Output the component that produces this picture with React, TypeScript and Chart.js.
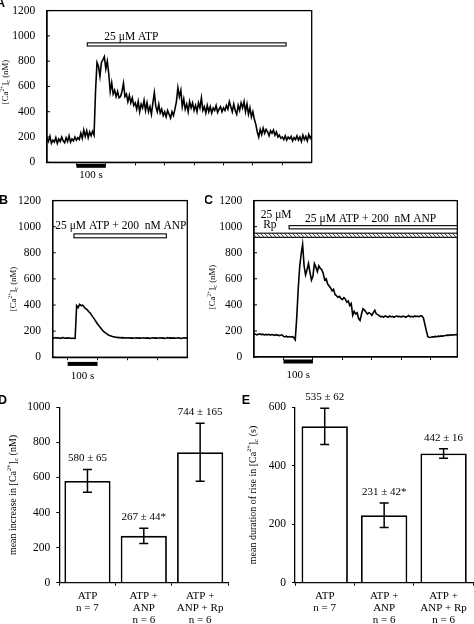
import React, { useEffect, useRef } from 'react';
import { Chart, registerables } from 'chart.js';

Chart.register(...registerables);

const SERIF = "'Liberation Serif', 'Times New Roman', serif";
const SANS = "'Liberation Sans', Arial, sans-serif";

// ---------------- DATA ----------------
// Panel A: [Ca2+]c (nM), sampled every 5 s, 0..900 s
const A_STEP = 5;
const A_CA = [
  190, 165, 205, 150, 175, 160, 195, 150, 185, 165,
  200, 170, 155, 195, 165, 210, 160, 185, 170, 200,
  175, 195, 180, 230, 190, 255, 205, 250, 195, 240,
  210, 245, 215, 560, 790, 760, 680, 790, 810, 835,
  740, 800, 700, 560, 630, 540, 570, 520, 560, 510,
  520, 560, 625, 520, 540, 480, 530, 470, 510, 450,
  470, 420, 480, 400, 460, 430, 490, 410, 470, 400,
  440, 380, 470, 550, 440, 400, 460, 390, 420, 370,
  400, 360, 410, 380, 350, 400, 370, 420, 480, 590,
  520, 570, 440, 500, 420, 460, 400, 480, 430, 470,
  410, 450, 400, 470, 430, 510, 410, 440, 390, 450,
  400, 440, 390, 430, 410, 450, 395, 420, 440, 400,
  430, 410, 450, 420, 480, 440, 400, 460, 410, 380,
  450, 410, 470, 430, 480, 400, 460, 380, 430, 360,
  400, 340, 300, 240, 200, 260, 220, 270, 230, 260,
  240, 210, 250, 230, 255, 215, 240, 200, 215, 190,
  200, 180, 210, 175, 200, 185, 205, 170, 195, 180,
  210, 175, 200, 165, 215, 180, 205, 170, 220, 190,
  215,
];
const A_X_MAX = 900;
const A_X_TICKS = [100, 200, 300, 400, 500, 600, 700, 800];
const A_SCALE_BAR = [100, 200];
const A_ATP = [137, 813];

// Panel B
const B_STEP = 5;
const B_CA = [
  148, 145, 150, 146, 149, 144, 148, 150, 145, 147,
  146, 149, 144, 147, 143, 145, 395, 380, 405, 395,
  398, 385, 372, 365, 350, 340, 322, 305, 290, 272,
  255, 240, 225, 210, 198, 188, 180, 172, 166, 162,
  158, 156, 153, 152, 150, 151, 148, 150, 147, 149,
  147, 149, 146, 148, 145, 147, 149, 146, 148, 145,
  147, 149, 145, 148, 146, 144, 147, 149, 146, 148,
  145, 147, 149, 146, 148, 144, 147, 150, 146, 148,
  146, 148, 145, 147, 149, 146, 144, 147, 149, 146,
  148,
];
const B_X_MAX = 450;
const B_X_TICKS = [50, 150, 250, 350];
const B_SCALE_BAR = [50, 150];
const B_ATP_ANP = [71, 380];

// Panel C
const C_STEP = 5;
const C_CA = [
  172, 176, 170, 174, 178, 171, 175, 169, 173, 170,
  174, 168, 172, 170, 166, 171, 168, 164, 167, 170,
  158, 155, 160, 152, 157, 154, 156, 150, 132, 300,
  520, 690, 790, 865, 700, 630, 670, 717, 650, 590,
  620, 717, 690, 655, 700, 680, 670, 640, 590, 600,
  560, 545, 530, 508, 520, 480, 470, 458, 465, 450,
  440, 455, 445, 420, 430, 395, 410, 320, 350, 330,
  340, 295, 280, 330, 370, 360, 345, 330, 340, 333,
  320, 340, 358, 330, 325, 318, 308, 312, 305, 315,
  310, 305, 315, 308, 312, 305, 310, 316, 308, 312,
  306, 314, 310, 305, 312, 318, 308, 312, 306, 315,
  310, 314, 308, 316, 315, 300, 250, 200, 155, 150,
  152, 155, 153, 158, 156, 160, 158, 162, 160, 163,
  165, 168, 166, 170, 168, 171, 169, 172, 170,
];
const C_X_MAX = 690;
const C_X_TICKS = [100, 200, 300, 400, 500, 600];
const C_SCALE_BAR = [100, 200];
const C_RP = [0, 690];
const C_ATP_ANP = [119, 690];

const TRACE_Y_MAX = 1200;
const TRACE_Y_STEP = 200;

// Panels D and E
const BAR_LABELS = [
  ['ATP', 'n = 7'],
  ['ATP +', 'ANP', 'n = 6'],
  ['ATP +', 'ANP + Rp', 'n = 6'],
];
const D_MEAN = [580, 267, 744];
const D_SEM = [65, 44, 165];
const D_TEXT = ['580 ± 65', '267 ± 44*', '744 ± 165'];
const D_Y_MAX = 1000;
const D_Y_STEP = 200;

const E_MEAN = [535, 231, 442];
const E_SEM = [62, 42, 16];
const E_TEXT = ['535 ± 62', '231 ± 42*', '442 ± 16'];
const E_Y_MAX = 600;
const E_Y_STEP = 200;

// ---------------- HELPERS ----------------
const plainTick = (v: any) => String(v);

function drawCaTitle(ctx: CanvasRenderingContext2D, prefix: string, suffix: string, cx: number, cy: number, size: number) {
  const segs = [
    { t: prefix + '[Ca', s: 1, dy: 0 },
    { t: '2+', s: 0.62, dy: -0.36 },
    { t: ']', s: 1, dy: 0 },
    { t: 'c', s: 0.7, dy: 0.3 },
    { t: suffix, s: 1, dy: 0 },
  ];
  ctx.save();
  ctx.translate(cx, cy);
  ctx.rotate(-Math.PI / 2);
  ctx.fillStyle = '#000';
  ctx.textBaseline = 'middle';
  ctx.textAlign = 'left';
  let total = 0;
  for (const sg of segs) {
    ctx.font = `${size * sg.s}px ${SERIF}`;
    total += ctx.measureText(sg.t).width;
  }
  let x = -total / 2;
  for (const sg of segs) {
    ctx.font = `${size * sg.s}px ${SERIF}`;
    ctx.fillText(sg.t, x, sg.dy * size);
    x += ctx.measureText(sg.t).width;
  }
  ctx.restore();
}

function drawLetter(ctx: CanvasRenderingContext2D, letter: string, x: number, y: number) {
  ctx.save();
  ctx.font = `bold 12.5px ${SANS}`;
  ctx.fillStyle = '#000';
  ctx.textAlign = 'left';
  ctx.textBaseline = 'middle';
  ctx.fillText(letter, x, y);
  ctx.restore();
}

function hatchPattern(ctx: CanvasRenderingContext2D) {
  const c = document.createElement('canvas');
  c.width = 4;
  c.height = 4;
  const g = c.getContext('2d')!;
  g.fillStyle = '#f2f2f2';
  g.fillRect(0, 0, 4, 4);
  g.strokeStyle = '#555';
  g.lineWidth = 1;
  g.beginPath();
  g.moveTo(0, 0);
  g.lineTo(4, 4);
  g.stroke();
  return ctx.createPattern(c, 'repeat');
}

type Area = { left: number; top: number; right: number; bottom: number };
type DrugBar = { range: number[]; lo: number; hi: number; hatch?: boolean };
type Txt = { text: string; x: number; y: number; align: CanvasTextAlign };

type TraceSpec = {
  w: number; h: number; area: Area;
  values: number[]; step: number; xMax: number; xTicks: number[];
  scaleBar: number[]; barOff: number; textOff: number;
  drugBars: DrugBar[]; texts: Txt[];
  letter: string; letterX: number; letterY: number;
  titleX: number; titleY: number; titleSize: number;
};

function traceConfig(p: TraceSpec): any {
  const extras = {
    id: 'traceExtras',
    afterDraw(chart: any) {
      const { ctx, chartArea: ca } = chart;
      const xs = chart.scales.x;
      const ys = chart.scales.y;
      ctx.save();
      // frame
      ctx.strokeStyle = '#000';
      ctx.lineWidth = 1.3;
      ctx.strokeRect(ca.left, ca.top, ca.right - ca.left, ca.bottom - ca.top);
      // inward y ticks
      ctx.lineWidth = 1;
      ys.ticks.forEach((t: any) => {
        const py = ys.getPixelForValue(t.value);
        ctx.beginPath();
        ctx.moveTo(ca.left, py);
        ctx.lineTo(ca.left + 3, py);
        ctx.stroke();
      });
      // drug application bars
      for (const b of p.drugBars) {
        const x0 = xs.getPixelForValue(b.range[0]);
        const x1 = xs.getPixelForValue(b.range[1]);
        const y0 = ys.getPixelForValue(b.hi);
        const y1 = ys.getPixelForValue(b.lo);
        ctx.fillStyle = b.hatch ? (hatchPattern(ctx) as any) : '#fff';
        ctx.fillRect(x0, y0, x1 - x0, y1 - y0);
        ctx.strokeStyle = '#000';
        ctx.lineWidth = 1.1;
        ctx.strokeRect(x0, y0, x1 - x0, y1 - y0);
      }
      // annotation texts
      ctx.fillStyle = '#000';
      ctx.font = `11.5px ${SERIF}`;
      ctx.textBaseline = 'middle';
      for (const t of p.texts) {
        ctx.textAlign = t.align;
        ctx.fillText(t.text, xs.getPixelForValue(t.x), ys.getPixelForValue(t.y));
      }
      // scale bar
      const sx0 = xs.getPixelForValue(p.scaleBar[0]);
      const sx1 = xs.getPixelForValue(p.scaleBar[1]);
      const sy = ca.bottom + p.barOff;
      ctx.fillRect(sx0, sy - 2, sx1 - sx0, 4);
      ctx.font = `11px ${SERIF}`;
      ctx.textAlign = 'center';
      ctx.fillText(`${p.scaleBar[1] - p.scaleBar[0]} s`, (sx0 + sx1) / 2, ca.bottom + p.textOff);
      ctx.restore();
      drawCaTitle(ctx, '', ' (nM)', p.titleX, p.titleY, p.titleSize);
      drawLetter(ctx, p.letter, p.letterX, p.letterY);
    },
  };
  return {
    type: 'line',
    data: {
      datasets: [
        {
          data: p.values.map((v, i) => ({ x: i * p.step, y: v })),
          borderColor: '#000',
          borderWidth: 1.6,
          pointRadius: 0,
          tension: 0,
          fill: false,
        },
      ],
    },
    options: {
      animation: false,
      responsive: false,
      devicePixelRatio: 1,
      events: [],
      layout: { padding: { left: 0, top: p.area.top, right: p.w - p.area.right, bottom: 0 } },
      plugins: { legend: { display: false }, tooltip: { enabled: false } },
      scales: {
        x: {
          type: 'linear',
          min: 0,
          max: p.xMax,
          afterBuildTicks: (s: any) => {
            s.ticks = p.xTicks.map((v) => ({ value: v }));
          },
          afterFit: (s: any) => {
            s.height = p.h - p.area.bottom;
          },
          ticks: { display: false },
          grid: { drawOnChartArea: false, drawTicks: true, tickLength: 3, color: '#000', lineWidth: 1 },
          border: { display: true, color: '#000', width: 1.3 },
        },
        y: {
          type: 'linear',
          min: 0,
          max: TRACE_Y_MAX,
          ticks: { stepSize: TRACE_Y_STEP, padding: 3.7, color: '#000', font: { family: SERIF, size: 11.5 }, callback: plainTick },
          afterFit: (s: any) => {
            s.width = p.area.left;
          },
          grid: { display: false },
          border: { display: true, color: '#000', width: 1.3 },
        },
      },
    },
    plugins: [extras],
  };
}

type BarSpec = {
  w: number; h: number; area: Area;
  means: number[]; sems: number[]; texts: string[];
  yMax: number; yStep: number; barPct: number;
  letter: string; letterX: number; letterY: number;
  titlePrefix: string; titleSuffix: string; titleX: number; titleSize: number;
};

function barConfig(p: BarSpec): any {
  const extras = {
    id: 'barExtras',
    afterDraw(chart: any) {
      const { ctx, chartArea: ca } = chart;
      const ys = chart.scales.y;
      const meta = chart.getDatasetMeta(0);
      ctx.save();
      ctx.strokeStyle = '#000';
      ctx.fillStyle = '#000';
      ctx.lineWidth = 1.5;
      meta.data.forEach((el: any, i: number) => {
        const cx = el.x;
        const top = ys.getPixelForValue(p.means[i] + p.sems[i]);
        const bot = ys.getPixelForValue(p.means[i] - p.sems[i]);
        ctx.beginPath();
        ctx.moveTo(cx, top);
        ctx.lineTo(cx, bot);
        ctx.moveTo(cx - 4.5, top);
        ctx.lineTo(cx + 4.5, top);
        ctx.moveTo(cx - 4.5, bot);
        ctx.lineTo(cx + 4.5, bot);
        ctx.stroke();
        ctx.font = `11px ${SERIF}`;
        ctx.textAlign = 'center';
        ctx.textBaseline = 'middle';
        ctx.fillText(p.texts[i], cx, top - 11);
      });
      ctx.restore();
      drawCaTitle(ctx, p.titlePrefix, p.titleSuffix, p.titleX, (ca.top + ca.bottom) / 2, p.titleSize);
      drawLetter(ctx, p.letter, p.letterX, p.letterY);
    },
  };
  return {
    type: 'bar',
    data: {
      labels: BAR_LABELS,
      datasets: [
        {
          data: p.means,
          backgroundColor: '#fff',
          borderColor: '#000',
          borderWidth: 1.8,
          categoryPercentage: 1,
          barPercentage: p.barPct,
        },
      ],
    },
    options: {
      animation: false,
      responsive: false,
      devicePixelRatio: 1,
      events: [],
      layout: { padding: { left: 0, top: p.area.top, right: p.w - p.area.right, bottom: 0 } },
      plugins: { legend: { display: false }, tooltip: { enabled: false } },
      scales: {
        x: {
          afterFit: (s: any) => {
            s.height = p.h - p.area.bottom;
          },
          ticks: {
            color: '#000',
            padding: 4.3,
            maxRotation: 0,
            autoSkip: false,
            font: { family: SERIF, size: 11, lineHeight: 1.1 },
          },
          grid: { offset: true, drawOnChartArea: false, drawTicks: true, tickLength: 3, color: '#000', lineWidth: 1 },
          border: { display: true, color: '#000', width: 1.3 },
        },
        y: {
          min: 0,
          max: p.yMax,
          ticks: { stepSize: p.yStep, padding: 6, color: '#000', font: { family: SERIF, size: 11.5 }, callback: plainTick },
          afterFit: (s: any) => {
            s.width = p.area.left;
          },
          grid: { drawOnChartArea: false, drawTicks: true, tickLength: 3, color: '#000', lineWidth: 1 },
          border: { display: true, color: '#000', width: 1.3 },
        },
      },
    },
    plugins: [extras],
  };
}

function ChartCanvas({ x, y, w, h, make }: { x: number; y: number; w: number; h: number; make: () => any }) {
  const ref = useRef<HTMLCanvasElement>(null);
  useEffect(() => {
    const chart = new Chart(ref.current as HTMLCanvasElement, make());
    return () => chart.destroy();
  }, []);
  return (
    <canvas
      ref={ref}
      width={w}
      height={h}
      style={{ position: 'absolute', left: x, top: y, width: w, height: h, display: 'block' }}
    />
  );
}

export default function App() {
  const makeA = () =>
    traceConfig({
      w: 330, h: 188,
      area: { left: 47, top: 4, right: 311.7, bottom: 162.3 },
      values: A_CA, step: A_STEP, xMax: A_X_MAX, xTicks: A_X_TICKS,
      scaleBar: A_SCALE_BAR, barOff: 3.5, textOff: 12.7,
      drugBars: [{ range: A_ATP, lo: 920, hi: 945 }],
      texts: [{ text: '25 μM ATP', x: 195, y: 990, align: 'left' }],
      letter: 'A', letterX: -4, letterY: 4,
      titleX: 6, titleY: 82, titleSize: 8.8,
    });
  const makeB = () =>
    traceConfig({
      w: 210, h: 196,
      area: { left: 52.7, top: 8.3, right: 187.3, bottom: 167.2 },
      values: B_CA, step: B_STEP, xMax: B_X_MAX, xTicks: B_X_TICKS,
      scaleBar: B_SCALE_BAR, barOff: 6.7, textOff: 19.4,
      drugBars: [{ range: B_ATP_ANP, lo: 915, hi: 945 }],
      texts: [{ text: '25 μM ATP + 200  nM ANP', x: 228, y: 1005, align: 'center' }],
      letter: 'B', letterX: -1, letterY: 11,
      titleX: 14, titleY: 99, titleSize: 8.8,
    });
  const makeC = () =>
    traceConfig({
      w: 269, h: 196,
      area: { left: 49, top: 8.3, right: 252.3, bottom: 167 },
      values: C_CA, step: C_STEP, xMax: C_X_MAX, xTicks: C_X_TICKS,
      scaleBar: C_SCALE_BAR, barOff: 4.5, textOff: 18,
      drugBars: [
        { range: C_RP, lo: 918, hi: 950, hatch: true },
        { range: C_ATP_ANP, lo: 983, hi: 1008 },
      ],
      texts: [
        { text: '25 μM', x: 23, y: 1087, align: 'left' },
        { text: 'Rp', x: 31, y: 1015, align: 'left' },
        { text: '25 μM ATP + 200  nM ANP', x: 396, y: 1061, align: 'center' },
      ],
      letter: 'C', letterX: -1, letterY: 11,
      titleX: 8, titleY: 97, titleSize: 8.8,
    });
  const makeD = () =>
    barConfig({
      w: 237, h: 236,
      area: { left: 59.3, top: 19.3, right: 228.3, bottom: 194.7 },
      means: D_MEAN, sems: D_SEM, texts: D_TEXT,
      yMax: D_Y_MAX, yStep: D_Y_STEP, barPct: 0.82,
      letter: 'D', letterX: -2, letterY: 13,
      titlePrefix: 'mean increase in ', titleSuffix: ' (nM)', titleX: 13.3, titleSize: 10,
    });
  const makeE = () =>
    barConfig({
      w: 237, h: 236,
      area: { left: 58, top: 19.3, right: 236.3, bottom: 194.7 },
      means: E_MEAN, sems: E_SEM, texts: E_TEXT,
      yMax: E_Y_MAX, yStep: E_Y_STEP, barPct: 0.78,
      letter: 'E', letterX: 4.7, letterY: 13,
      titlePrefix: 'mean duration of rise in ', titleSuffix: ' (s)', titleX: 16.3, titleSize: 10,
    });

  return (
    <div style={{ position: 'absolute', left: 0, top: 0, width: 474, height: 624, background: '#fff', overflow: 'hidden' }}>
      <ChartCanvas x={0} y={0} w={330} h={188} make={makeA} />
      <ChartCanvas x={0} y={190} w={210} h={196} make={makeB} />
      <ChartCanvas x={205} y={190} w={269} h={196} make={makeC} />
      <ChartCanvas x={0} y={388} w={237} h={236} make={makeD} />
      <ChartCanvas x={237} y={388} w={237} h={236} make={makeE} />
    </div>
  );
}
